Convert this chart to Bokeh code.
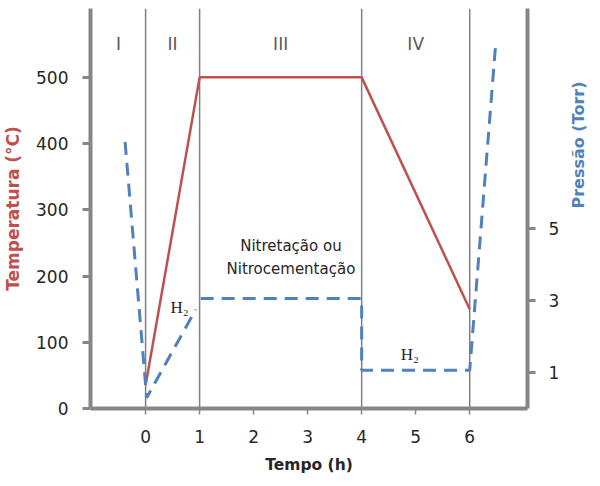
import math
from bokeh.plotting import figure
from bokeh.models import Range1d, LinearAxis, FixedTicker
from bokeh.core.properties import value
from bokeh.embed import file_html
from bokeh.resources import INLINE

nan = math.nan

# ---- data ----
time_ticks = [0, 1, 2, 3, 4, 5, 6]
temp_ticks = [0, 100, 200, 300, 400, 500]
press_ticks = [1, 3, 5]

temp_time = [0, 1, 4, 6]
temp_values = [35, 500, 500, 150]

press_time = [-0.38, 0.02, 0.93, nan, 1.02, 4.0, 4.0, 6.0, 6.48]
press_values = [7.4, 0.3, 2.75, nan, 3.05, 3.05, 1.06, 1.06, 10.1]

phase_edges = [-1, 0, 1, 4, 6]
phase_names = ["I", "II", "III", "IV"]
phase_label_temp = 550

process_text = ["Nitretação ou", "Nitrocementação"]
process_text_x = 2.69
process_text_temp = [246, 211]

h2_time = [0.63, 4.89]
h2_press = [2.8, 1.5]

TEMP_COLOR = "#C0504D"
PRESS_COLOR = "#4F81BD"
AXIS_COLOR = "#868686"
TEXT_COLOR = "#262626"
FONT = "DejaVu Sans"

p = figure(width=600, height=486, output_backend="svg", toolbar_location=None,
           x_range=Range1d(-1.02, 7.07), y_range=Range1d(0, 604),
           min_border_left=90, min_border_right=73, min_border_top=8,
           min_border_bottom=78, x_axis_location=None, y_axis_location=None)
p.outline_line_color = None
p.xgrid.visible = False
p.ygrid.visible = False
p.background_fill_color = "white"
p.border_fill_color = "white"
p.extra_y_ranges = {"p": Range1d(0, 11.1)}

# axes
xax = LinearAxis(ticker=FixedTicker(ticks=time_ticks), axis_label="Tempo (h)")
yax = LinearAxis(ticker=FixedTicker(ticks=temp_ticks), axis_label="Temperatura (°C)")
rax = LinearAxis(ticker=FixedTicker(ticks=press_ticks), y_range_name="p",
                 axis_label="Pressão (Torr)")
for ax in (xax, yax, rax):
    ax.axis_line_color = AXIS_COLOR
    ax.axis_line_width = 4
    ax.major_tick_line_color = AXIS_COLOR
    ax.major_tick_in = 0
    ax.minor_tick_line_color = None
    ax.major_label_text_font = FONT
    ax.major_label_text_font_size = "17px"
    ax.major_label_text_color = TEXT_COLOR
    ax.axis_label_text_font = FONT
    ax.axis_label_text_font_style = "bold"

xax.major_tick_out = 6
xax.major_tick_line_width = 1.5
xax.major_label_standoff = 15
xax.axis_label_standoff = 10
xax.axis_label_text_font_size = "15.5px"
xax.axis_label_text_color = TEXT_COLOR

yax.major_tick_out = 8
yax.major_tick_line_width = 3
yax.major_label_standoff = 14
yax.axis_label_standoff = 10
yax.axis_label_text_font_size = "17px"
yax.axis_label_text_color = TEMP_COLOR

rax.major_tick_out = 8
rax.major_tick_line_width = 3
rax.major_label_standoff = 13
rax.axis_label_standoff = 16
rax.axis_label_text_font_size = "16px"
rax.axis_label_text_color = PRESS_COLOR
if hasattr(rax, "axis_label_orientation"):
    rax.axis_label_orientation = math.pi / 2

p.add_layout(xax, "below")
p.add_layout(yax, "left")
p.add_layout(rax, "right")

# phase boundaries
bounds = phase_edges[1:]
p.segment(x0=bounds, y0=[0] * len(bounds), x1=bounds, y1=[604] * len(bounds),
          line_color="#808080", line_width=1.5)

# phase labels
mids = [(a + b) / 2 for a, b in zip(phase_edges[:-1], phase_edges[1:])]
p.text(x=mids, y=[phase_label_temp] * len(mids), text=phase_names,
       text_font=value(FONT), text_font_size="17px", text_align="center",
       text_baseline="middle", text_color="#595959")

# temperature
p.line(temp_time, temp_values, line_color=TEMP_COLOR, line_width=2.5)

# pressure
p.line(press_time, press_values, y_range_name="p", line_color=PRESS_COLOR,
       line_width=3, line_dash="13 8")

# annotations
p.text(x=[process_text_x] * 2, y=process_text_temp, text=process_text,
       text_font=value(FONT), text_font_size="15px", text_align="center",
       text_baseline="middle", text_color=TEXT_COLOR)
p.text(x=h2_time, y=h2_press, text=["H₂", "H₂"], y_range_name="p",
       text_font=value("Liberation Serif"), text_font_size="17px",
       text_align="center", text_baseline="middle", text_color=TEXT_COLOR)

open("out.html", "w").write(file_html(p, INLINE))
